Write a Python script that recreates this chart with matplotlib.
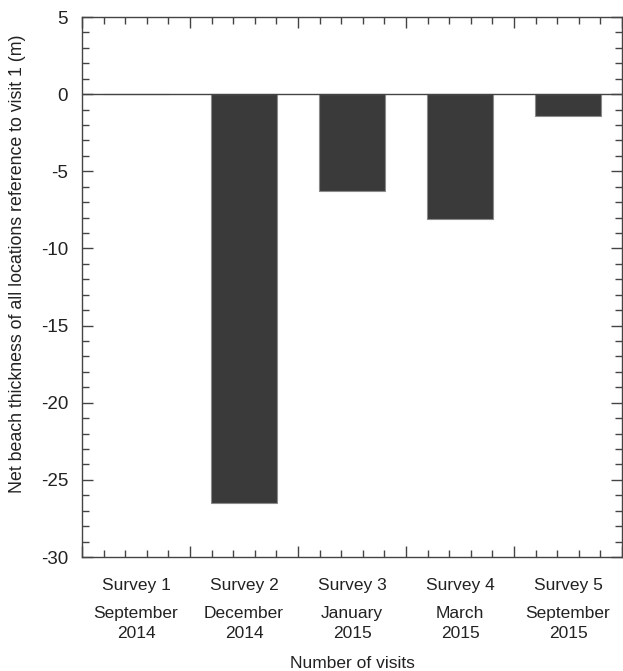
import matplotlib.pyplot as plt
from matplotlib.ticker import MultipleLocator
import matplotlib.transforms as mtransforms

plt.rcParams['font.family'] = ['Liberation Sans', 'DejaVu Sans']
plt.rcParams['axes.unicode_minus'] = False

surveys = ["Survey 1", "Survey 2", "Survey 3", "Survey 4", "Survey 5"]
months = ["September", "December", "January", "March", "September"]
years = ["2014", "2014", "2015", "2015", "2015"]
thickness = [0.0, -26.5, -6.3, -8.1, -1.4]

fig = plt.figure(figsize=(6.23, 6.71), dpi=100)
ax = fig.add_axes([82 / 623, 1 - 557 / 671, 540 / 623, 540 / 671])

pos = [i + 0.5 for i in range(len(surveys))]
ax.bar(pos, thickness, width=0.61, color="#3a3a3a", edgecolor="#8a8a8a", linewidth=0.8, zorder=2)
ax.axhline(0, color="#444444", linewidth=1.0, zorder=3)

ax.set_xlim(0, 5)
ax.set_ylim(-30, 5)
ax.xaxis.set_major_locator(MultipleLocator(1))
ax.xaxis.set_minor_locator(MultipleLocator(0.2))
ax.yaxis.set_major_locator(MultipleLocator(5))
ax.yaxis.set_minor_locator(MultipleLocator(1))
ax.tick_params(which="both", direction="in", top=True, right=True, color="#444444")
ax.tick_params(which="major", length=8, width=1)
ax.tick_params(which="minor", length=5, width=1)
ax.tick_params(axis="x", labelbottom=False)
ax.tick_params(axis="y", labelsize=13.5, pad=10, labelcolor="#222222")
for s in ax.spines.values():
    s.set_color("#444444")
    s.set_linewidth(1.0)

# category labels under each bar: survey name, month, year
trans = mtransforms.blended_transform_factory(ax.transData, ax.transAxes)
for x, s, m, yr in zip(pos, surveys, months, years):
    ax.text(x, -0.052, s, transform=trans, ha="center", va="center", fontsize=12.5, color="#222222")
    ax.text(x, -0.104, m, transform=trans, ha="center", va="center", fontsize=12.5, color="#222222")
    ax.text(x, -0.141, yr, transform=trans, ha="center", va="center", fontsize=12.5, color="#222222")

ax.set_xlabel("Number of visits", fontsize=12.5, color="#222222")
ax.xaxis.set_label_coords(0.5, -0.183)
ax.set_ylabel("Net beach thickness of all locations reference to visit 1 (m)", fontsize=12.8,
              color="#222222", va="center")
ax.yaxis.set_label_coords(-0.12, 0.543)

fig.savefig("out.png", dpi=100)
